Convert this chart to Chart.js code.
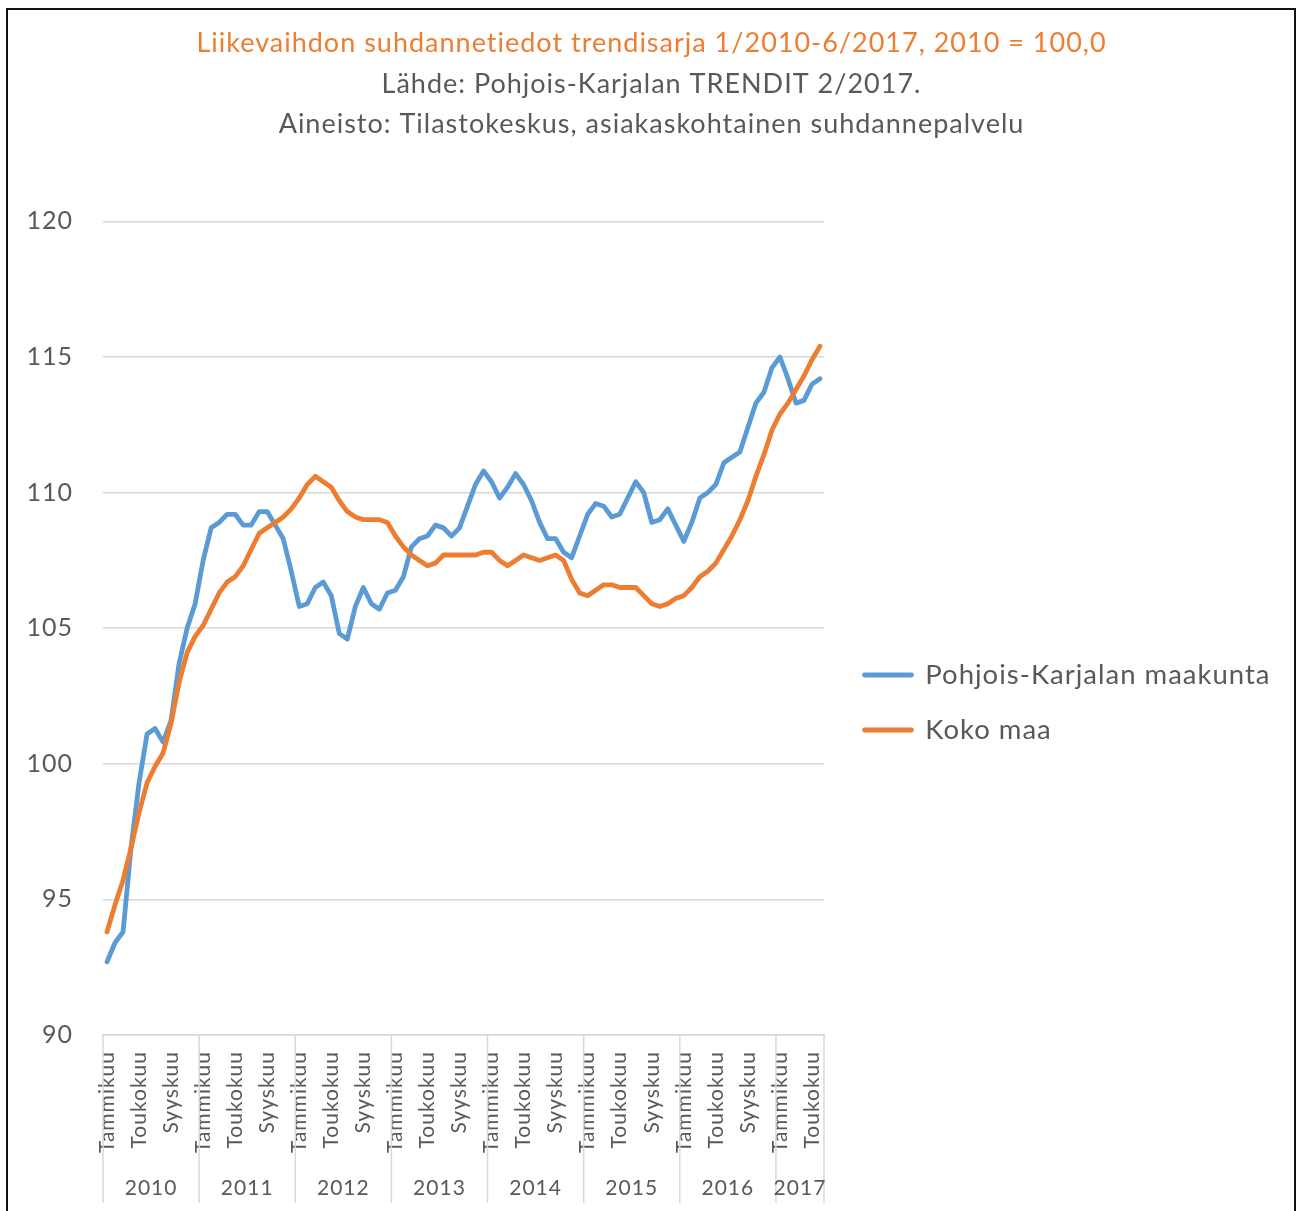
<!DOCTYPE html>
<html lang="fi">
<head>
<meta charset="utf-8">
<title>Liikevaihdon suhdannetiedot trendisarja</title>
<script src="https://cdn.jsdelivr.net/npm/chart.js"></script>
<style>
  html, body { margin: 0; padding: 0; background: #fff; }
  canvas { display: block; }
</style>
</head>
<body>
<canvas id="chart" width="1298" height="1211"></canvas>
<script>
// --- data (1/2010 - 6/2017, trend, 2010 = 100) ---
const years = ['2010', '2011', '2012', '2013', '2014', '2015', '2016', '2017'];
const monthNames = ['Tammikuu', 'Helmikuu', 'Maaliskuu', 'Huhtikuu', 'Toukokuu', 'Kesäkuu',
                    'Heinäkuu', 'Elokuu', 'Syyskuu', 'Lokakuu', 'Marraskuu', 'Joulukuu'];
const yTicks = [90, 95, 100, 105, 110, 115, 120];

const pohjoisKarjala = [
  92.7, 93.4, 93.8, 96.9, 99.3, 101.1, 101.3, 100.8, 101.6, 103.7, 105.0, 105.9,
  107.5, 108.7, 108.9, 109.2, 109.2, 108.8, 108.8, 109.3, 109.3, 108.8, 108.3, 107.1,
  105.8, 105.9, 106.5, 106.7, 106.2, 104.8, 104.6, 105.8, 106.5, 105.9, 105.7, 106.3,
  106.4, 106.9, 108.0, 108.3, 108.4, 108.8, 108.7, 108.4, 108.7, 109.5, 110.3, 110.8,
  110.4, 109.8, 110.2, 110.7, 110.3, 109.7, 108.9, 108.3, 108.3, 107.8, 107.6, 108.4,
  109.2, 109.6, 109.5, 109.1, 109.2, 109.8, 110.4, 110.0, 108.9, 109.0, 109.4, 108.8,
  108.2, 108.9, 109.8, 110.0, 110.3, 111.1, 111.3, 111.5, 112.4, 113.3, 113.7, 114.6,
  115.0, 114.2, 113.3, 113.4, 114.0, 114.2
];
const kokoMaa = [
  93.8, 94.8, 95.7, 96.9, 98.2, 99.3, 99.9, 100.4, 101.5, 103.0, 104.1, 104.7,
  105.1, 105.7, 106.3, 106.7, 106.9, 107.3, 107.9, 108.5, 108.7, 108.9, 109.1, 109.4,
  109.8, 110.3, 110.6, 110.4, 110.2, 109.7, 109.3, 109.1, 109.0, 109.0, 109.0, 108.9,
  108.4, 108.0, 107.7, 107.5, 107.3, 107.4, 107.7, 107.7, 107.7, 107.7, 107.7, 107.8,
  107.8, 107.5, 107.3, 107.5, 107.7, 107.6, 107.5, 107.6, 107.7, 107.5, 106.8, 106.3,
  106.2, 106.4, 106.6, 106.6, 106.5, 106.5, 106.5, 106.2, 105.9, 105.8, 105.9, 106.1,
  106.2, 106.5, 106.9, 107.1, 107.4, 107.9, 108.4, 109.0, 109.7, 110.6, 111.4, 112.3,
  112.9, 113.3, 113.8, 114.3, 114.9, 115.4
];

const FONT = 'Lato, "Open Sans", sans-serif';
const GREY = '#595959';
const GRID = '#d9d9d9';
const BLUE = '#5b9bd5';
const ORANGE = '#ed7d31';

// one label per month; only every 4th is shown on the axis
const labels = pohjoisKarjala.map((v, i) => monthNames[i % 12]);

// white background, slightly looser text (the original is an Excel export) and a frame
const framePlugin = {
  id: 'frame',
  beforeLayout(chart) {
    chart.ctx.letterSpacing = '1px';
  },
  beforeDraw(chart) {
    const ctx = chart.ctx;
    ctx.letterSpacing = '1px';
    ctx.save();
    ctx.fillStyle = '#fff';
    ctx.fillRect(0, 0, chart.width, chart.height);
    ctx.restore();
  },
  afterDraw(chart) {
    const ctx = chart.ctx;
    ctx.save();
    ctx.strokeStyle = '#111';
    ctx.lineWidth = 2;
    ctx.strokeRect(7, 9, 1288, 1300);
    ctx.restore();
  }
};

// second level of the category axis: year separators and year names
const yearAxisPlugin = {
  id: 'yearAxis',
  afterDraw(chart) {
    const x = chart.scales.x;
    const ctx = chart.ctx;
    const n = labels.length;
    const half = (x.getPixelForValue(1) - x.getPixelForValue(0)) / 2;
    ctx.save();
    ctx.strokeStyle = GRID;
    ctx.lineWidth = 1.5;
    ctx.fillStyle = GREY;
    ctx.font = '21px ' + FONT;
    ctx.textAlign = 'center';
    ctx.textBaseline = 'middle';
    years.forEach((year, k) => {
      const first = k * 12;
      const last = Math.min(first + 11, n - 1);
      const left = x.getPixelForValue(first) - half;
      const right = x.getPixelForValue(last) + half;
      ctx.beginPath();
      ctx.moveTo(left, x.top);
      ctx.lineTo(left, 1203);
      if (k === years.length - 1) {
        ctx.moveTo(right, x.top);
        ctx.lineTo(right, 1203);
      }
      ctx.stroke();
      ctx.fillText(year, (left + right) / 2, 1188);
    });
    ctx.restore();
  }
};

// titles centred on the whole picture, legend pushed down next to the lines
const legendShift = 97;
const placementPlugin = {
  id: 'placement',
  afterLayout(chart) {
    chart.boxes.filter(b => b.options.position === 'top').forEach(b => {
      b.left = 5;
      b.right = chart.width;
      b.width = b.right - b.left;
    });
    const legend = chart.legend;
    legend.top += legendShift;
    legend.bottom += legendShift;
    legend.right = chart.width;          // room for the long label
    legend.width = legend.right - legend.left;
  }
};

new Chart(document.getElementById('chart'), {
  type: 'line',
  data: {
    labels: labels,
    datasets: [
      {
        label: 'Pohjois-Karjalan maakunta',
        data: pohjoisKarjala,
        borderColor: BLUE,
        backgroundColor: BLUE,
        order: 1
      },
      {
        label: 'Koko maa',
        data: kokoMaa,
        borderColor: ORANGE,
        backgroundColor: ORANGE,
        order: 0
      }
    ]
  },
  options: {
    responsive: false,
    animation: false,
    devicePixelRatio: 1,
    layout: { padding: { left: 0, right: 61, top: 0, bottom: 0 } },
    elements: {
      line: { borderWidth: 4.8, tension: 0, borderJoinStyle: 'round', borderCapStyle: 'round', fill: false },
      point: { radius: 0, hoverRadius: 0 }
    },
    plugins: {
      title: {
        display: true,
        text: 'Liikevaihdon suhdannetiedot trendisarja 1/2010-6/2017, 2010 = 100,0',
        color: ORANGE,
        font: { family: FONT, size: 27, weight: 'normal', lineHeight: 1.2 },
        padding: { top: 27, bottom: 0 }
      },
      subtitle: {
        display: true,
        text: ['Lähde: Pohjois-Karjalan TRENDIT 2/2017.',
               'Aineisto: Tilastokeskus, asiakaskohtainen suhdannepalvelu'],
        color: GREY,
        font: { family: FONT, size: 27, weight: 'normal', lineHeight: 40 / 27 },
        padding: { top: 5, bottom: 77 }
      },
      legend: {
        position: 'right',
        maxWidth: 400,
        labels: {
          color: GREY,
          font: { family: FONT, size: 27.5 },
          boxWidth: 47,
          boxHeight: 0,
          padding: 27.5,
          sort: (a, b) => a.datasetIndex - b.datasetIndex
        }
      },
      tooltip: { enabled: false }
    },
    scales: {
      x: {
        offset: true,
        grid: { display: false },
        border: { display: true, color: GRID, width: 1.5 },
        ticks: {
          autoSkip: false,
          minRotation: 90,
          maxRotation: 90,
          padding: 8,
          color: GREY,
          font: { family: FONT, size: 21 },
          callback: (value, i) => (i % 4 === 0 ? labels[i] : '')
        },
        afterFit: (scale) => { scale.height = 176; }
      },
      y: {
        min: yTicks[0],
        max: yTicks[yTicks.length - 1],
        grid: { color: GRID, lineWidth: 1.5, drawTicks: false },
        border: { display: false },
        ticks: {
          stepSize: yTicks[1] - yTicks[0],
          padding: 30,
          color: GREY,
          font: { family: FONT, size: 25 }
        },
        afterFit: (scale) => { scale.width = 103; }
      },
      // empty spacer between the plot and the legend
      yPad: {
        position: 'right',
        grid: { display: false },
        border: { display: false },
        ticks: { display: false },
        afterFit: (scale) => { scale.width = 13; }
      }
    }
  },
  plugins: [framePlugin, yearAxisPlugin, placementPlugin]
});
</script>
</body>
</html>
